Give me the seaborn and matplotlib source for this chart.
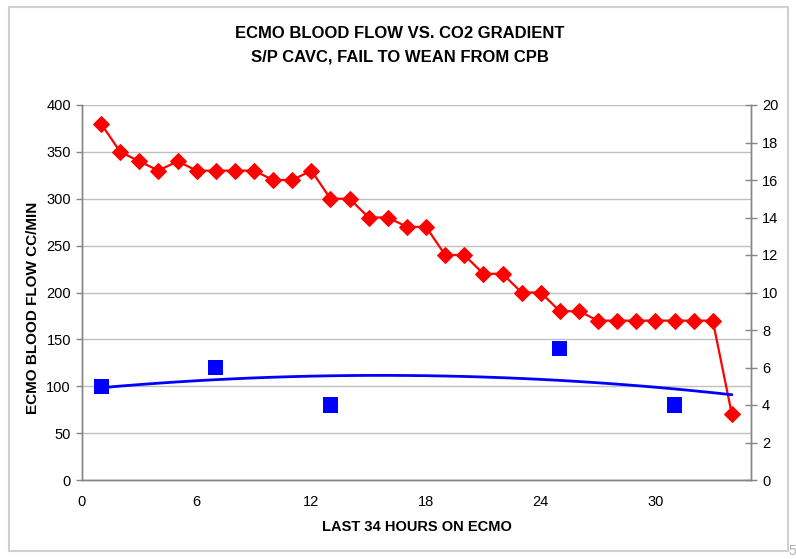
import numpy as np
import pandas as pd
import matplotlib
matplotlib.use("Agg")
import matplotlib.pyplot as plt
from matplotlib.patches import Rectangle
import seaborn as sns

# ECMO blood flow (cc/min), hourly over the last 34 hours
hours = list(range(1, 35))
blood_flow = [380, 350, 340, 330, 340, 330, 330, 330, 330, 320, 320, 330,
              300, 300, 280, 280, 270, 270, 240, 240, 220, 220, 200, 200,
              180, 180, 170, 170, 170, 170, 170, 170, 170, 70]

# CO2 gradient samples (right axis)
co2_hours = [1, 7, 13, 25, 31]
co2_gradient = [5, 6, 4, 7, 4]

x_ticks = [0, 6, 12, 18, 24, 30]
left_ticks = list(range(0, 401, 50))
right_ticks = list(range(0, 21, 2))

sns.set_style("white")
plt.rcParams["font.family"] = ["Liberation Sans", "DejaVu Sans"]
plt.rcParams["text.color"] = "black"
plt.rcParams["axes.labelcolor"] = "black"
plt.rcParams["xtick.labelcolor"] = "black"
plt.rcParams["ytick.labelcolor"] = "black"

fig = plt.figure(figsize=(7.96, 5.59), dpi=100)
ax = fig.add_axes([82 / 796, 1 - 480 / 559, (751 - 82) / 796, (480 - 105) / 559])
ax2 = ax.twinx()

flow_df = pd.DataFrame({"hour": hours, "flow": blood_flow})
co2_df = pd.DataFrame({"hour": co2_hours, "co2": co2_gradient})

# second-order polynomial trend through the CO2 samples
coef = np.polyfit(co2_hours, co2_gradient, 2)
trend_df = pd.DataFrame({"hour": hours, "trend": np.polyval(coef, hours)})

sns.lineplot(data=flow_df, x="hour", y="flow", ax=ax, color="#ff0000",
             linewidth=1.6, marker="D", markersize=8.5, markeredgecolor="#ff0000",
             zorder=3)
sns.lineplot(data=trend_df, x="hour", y="trend", ax=ax2, color="#0000ff",
             linewidth=2.0, zorder=2)
sns.scatterplot(data=co2_df, x="hour", y="co2", ax=ax2, color="#0000ff",
                marker="s", s=120, edgecolor="none", zorder=3)

# axes limits and ticks
ax.set_xlim(0, 35)
ax.set_ylim(0, 400)
ax2.set_ylim(0, 20)
ax.set_xticks(x_ticks)
ax.set_yticks(left_ticks)
ax2.set_yticks(right_ticks)

ax.yaxis.grid(True, color="#bfbfbf", linewidth=1.0)
ax.xaxis.grid(False)
ax2.grid(False)
ax.set_axisbelow(True)

spine_c = "#868686"
for a in (ax, ax2):
    a.spines["top"].set_visible(False)
    for side in ("left", "right", "bottom"):
        a.spines[side].set_color(spine_c)
        a.spines[side].set_linewidth(1.0)

ax.tick_params(axis="both", which="major", labelsize=10.5, length=4,
               width=1.0, color=spine_c, direction="out", pad=4,
               labelcolor="black")
ax.tick_params(axis="x", pad=7)
ax2.tick_params(axis="y", labelsize=10.5, length=8, width=1.0,
                color=spine_c, direction="inout", pad=4, labelcolor="black")

ax.set_xlabel("LAST 34 HOURS ON ECMO", fontsize=10.5, fontweight="bold",
              labelpad=8, color="black")
ax.set_ylabel("ECMO BLOOD FLOW CC/MIN", fontsize=11, fontweight="bold",
              color="black")
ax.yaxis.set_label_coords(-0.063, 0.46)
ax2.set_ylabel("")
ax2.set_xlabel("")

fig.text(0.5025, 1 - 33 / 559, "ECMO BLOOD FLOW VS. CO2 GRADIENT",
         ha="center", va="center", fontsize=12, fontweight="bold", color="black")
fig.text(0.5025, 1 - 57 / 559, "S/P CAVC, FAIL TO WEAN FROM CPB",
         ha="center", va="center", fontsize=12, fontweight="bold", color="black")

# chart frame
fig.patches.append(Rectangle((9 / 796, 1 - 551 / 559), (788 - 9) / 796,
                             (551 - 7) / 559, transform=fig.transFigure,
                             fill=False, edgecolor="#d0d0d0", linewidth=1.5))
fig.text(788 / 796, 1 - 551 / 559, "5", color="#b0b0b0", fontsize=10,
         ha="left", va="center")

fig.savefig("out.png", dpi=100)
